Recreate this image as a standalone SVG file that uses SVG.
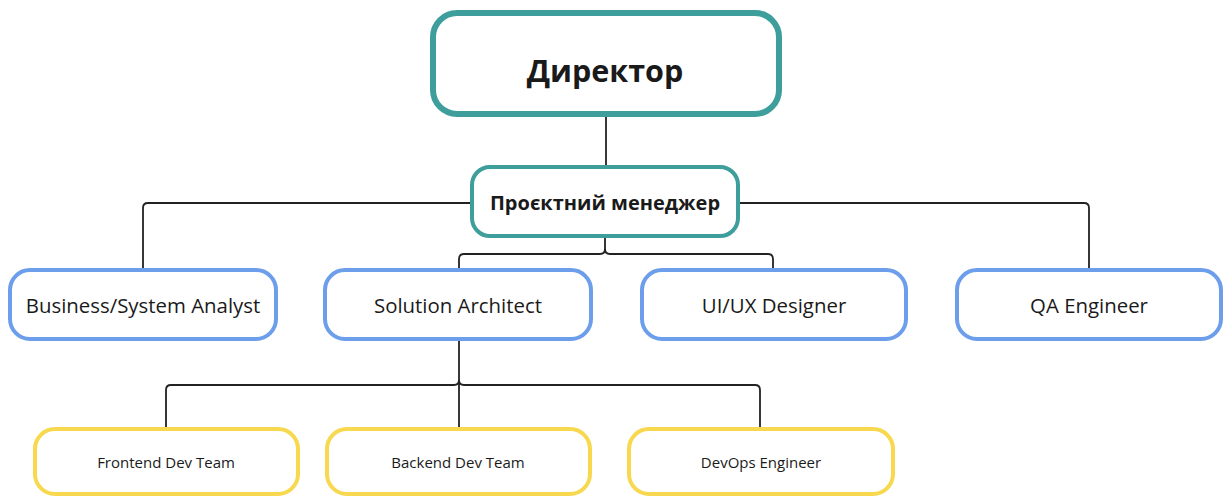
<svg xmlns="http://www.w3.org/2000/svg" width="1227" height="497" viewBox="0 0 1227 497">
<style>
.lvl0{fill:#fff;stroke:#3d9e9c;stroke-width:6}
.lvl1{fill:#fff;stroke:#3d9e9c;stroke-width:4}
.lvl2{fill:#fff;stroke:#6d9eeb;stroke-width:4}
.lvl3{fill:#fff;stroke:#f7d84e;stroke-width:4}
.t{font-family:"Open Sans","Noto Sans","DejaVu Sans",sans-serif;fill:#1a1a1a;text-anchor:middle}
.conn{fill:none;stroke:#222;stroke-width:1.8}
</style>
<rect width="1227" height="497" fill="#fff"/>
<g id="connectors">
<path class="conn" d="M606 116 V166"/>
<path class="conn" d="M471 203 H148 Q143 203 143 208 V268"/>
<path class="conn" d="M739 203 H1084 Q1089 203 1089 208 V268"/>
<path class="conn" d="M605 238 V249 Q605 254 600 254 H464 Q459 254 459 259 V268"/>
<path class="conn" d="M605 249 Q605 254 610 254 H768 Q773 254 773 259 V268"/>
<path class="conn" d="M459 341 V427"/>
<path class="conn" d="M459 380 Q459 385 454 385 H171 Q166 385 166 390 V427"/>
<path class="conn" d="M459 380 Q459 385 464 385 H755 Q760 385 760 390 V427"/>
</g>
<g id="director">
<rect class="lvl0" x="433" y="13" width="346" height="101" rx="24"/>
<text class="t" x="605" y="82" font-size="30.5" font-weight="700">Директор</text>
</g>
<g id="pm">
<rect class="lvl1" x="472" y="167" width="266" height="69" rx="18"/>
<text class="t" x="605" y="210" font-size="20" font-weight="700">Проєктний менеджер</text>
</g>
<g id="ba">
<rect class="lvl2" x="10" y="270" width="266" height="69" rx="20"/>
<text class="t" x="143" y="313" font-size="20.4">Business/System Analyst</text>
</g>
<g id="sa">
<rect class="lvl2" x="325" y="270" width="266" height="69" rx="20"/>
<text class="t" x="458" y="313" font-size="20.4">Solution Architect</text>
</g>
<g id="uiux">
<rect class="lvl2" x="642" y="270" width="264" height="69" rx="20"/>
<text class="t" x="774" y="313" font-size="20.4">UI/UX Designer</text>
</g>
<g id="qa">
<rect class="lvl2" x="957" y="270" width="264" height="69" rx="20"/>
<text class="t" x="1089" y="313" font-size="20.4">QA Engineer</text>
</g>
<g id="frontend">
<rect class="lvl3" x="35" y="429" width="263" height="65" rx="20"/>
<text class="t" x="166" y="468" font-size="15">Frontend Dev Team</text>
</g>
<g id="backend">
<rect class="lvl3" x="327" y="429" width="263" height="65" rx="20"/>
<text class="t" x="458" y="468" font-size="15">Backend Dev Team</text>
</g>
<g id="devops">
<rect class="lvl3" x="629" y="429" width="264" height="65" rx="20"/>
<text class="t" x="761" y="468" font-size="15">DevOps Engineer</text>
</g>
</svg>
